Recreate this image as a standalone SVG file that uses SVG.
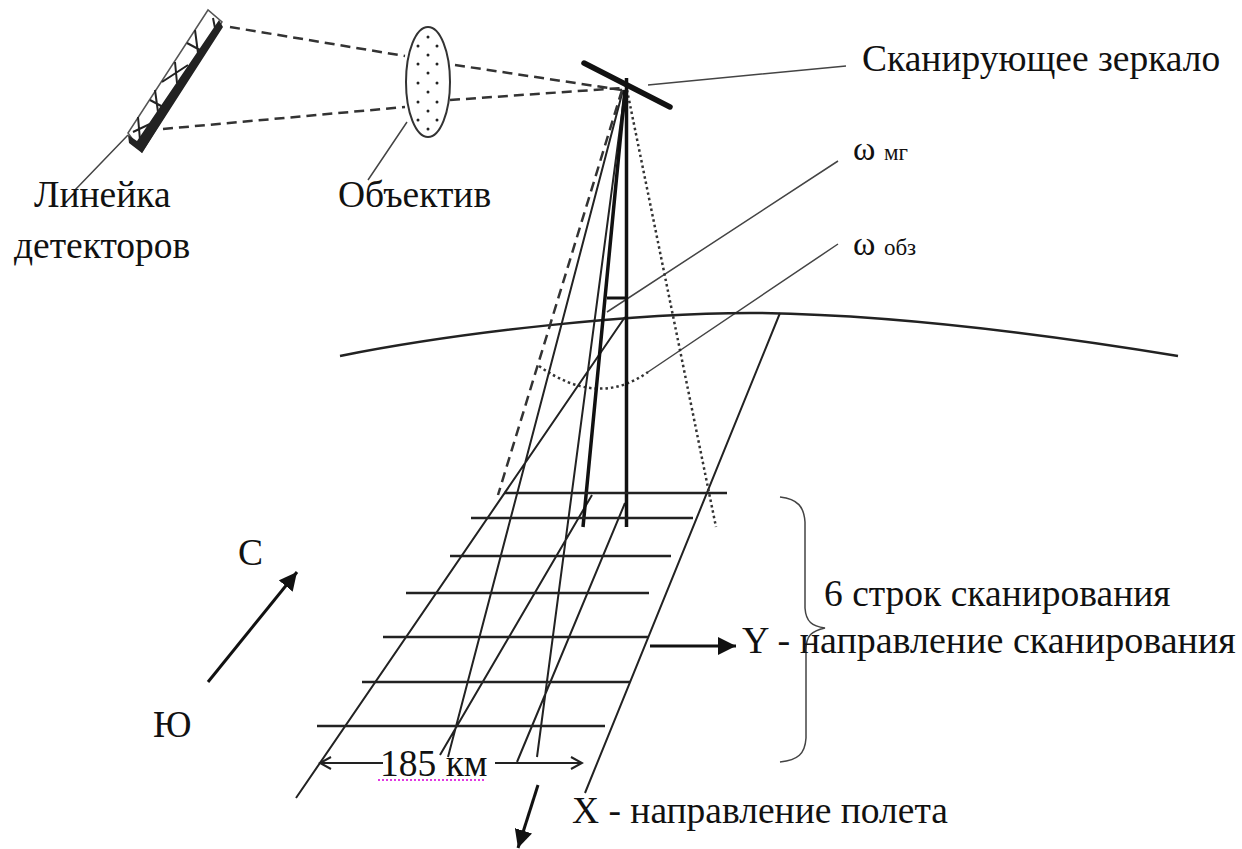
<svg xmlns="http://www.w3.org/2000/svg" width="1242" height="849" viewBox="0 0 1242 849">
<defs>
<style>
text{font-family:"Liberation Serif","Times New Roman",serif;font-size:37.500px;fill:#111}
.t{fill:none;stroke:#222;stroke-width:2}
.m{fill:none;stroke:#111;stroke-width:3}
.l{fill:none;stroke:#444;stroke-width:1.5}
.d{fill:none;stroke:#333;stroke-width:2.5;stroke-dasharray:10 6}
.o{fill:none;stroke:#333;stroke-width:2.5;stroke-dasharray:2.5 3}
.s{fill:none;stroke:#222;stroke-width:2.5}
.dot{fill:#222}
</style>
<marker id="solid" markerUnits="userSpaceOnUse" markerWidth="20" markerHeight="18" refX="18" refY="9" orient="auto"><path d="M0 0L18 9L0 18Z" fill="#111"/></marker>
<marker id="open" markerUnits="userSpaceOnUse" markerWidth="14" markerHeight="14" refX="12" refY="7" orient="auto"><path d="M1 1L12 7L1 13" fill="none" stroke="#222" stroke-width="2"/></marker>
</defs>
<rect width="1242" height="849" fill="#fff"/>
<g id="connectors">
<path class="d" d="M230 27L405 56M163 129L405 107M455 65L622 90M450 100L622 88"/>
<path class="l" d="M128 135L75 190M407 122L368 180M648 85L846 66M838 161L607 312M838 244L648 372"/>
<path class="o" d="M539 366Q598 408 648 372" stroke-width="2"/>
<path class="s" d="M340 356C460 332 640 312 760 313C900 315 1050 335 1178 356"/>
<path class="t" d="M296 798L625 317M585 793L780 313M440 755L592 495M448 757L623 90M517 762L625 503M537 757L625 90"/>
<path class="d" d="M622 90L498 495"/>
<path class="o" d="M627 90L716 527"/>
<path fill="none" stroke="#111" stroke-width="3.500" d="M626.500 78V527M625 90L583 527"/>
<path class="m" d="M607 298H627"/>
<path class="s" d="M504 493H727M471 518H693M450 556H671M406 593H649M383 637H648M362 682H630M317 726H605"/>
<path class="m" stroke-width="3.500" d="M208 682L297 572" marker-end="url(#solid)"/>
<path class="m" stroke-width="4" d="M650 646H736" marker-end="url(#solid)"/>
<path class="m" stroke-width="4" d="M538 785L518 848" marker-end="url(#solid)"/>
<path class="t" d="M383 763H320" marker-end="url(#open)"/>
<path class="t" d="M495 763H582" marker-end="url(#open)"/>
<path class="l" stroke-width="2" d="M780 497C798 499 804 507 805 522V608C806 622 812 626 825 628C812 631 806 635 806 650V738C805 754 798 760 780 762"/>
<path fill="none" stroke="#e23be2" stroke-width="2" stroke-dasharray="2 2" d="M378 780H486"/>
</g>
<g id="detector">
<path fill="none" stroke="#555" stroke-width="1.500" d="M208 10L128 133L142 152L222 22Z"/>
<path fill="none" stroke="#222" stroke-width="2" d="M213 18L215 28M195 30L198 53M187 43L200 50M175 62L177 83M162 82L188 65M155 90L158 112M150 100L163 107M138 117L140 140M133 132L152 123"/>
<path fill="#222" d="M219 20L223 27L142 153L129 143L128 135L137 141Z"/>
</g>
<g id="lens">
<ellipse cx="428" cy="82" rx="22" ry="55" fill="#fff" stroke="#333" stroke-width="2"/>
<g class="dot">
<circle cx="428" cy="37" r="1.500"/><circle cx="418" cy="46" r="1.500"/><circle cx="437" cy="46" r="1.500"/><circle cx="428" cy="55" r="1.500"/><circle cx="418" cy="64" r="1.500"/><circle cx="437" cy="64" r="1.500"/><circle cx="428" cy="73" r="1.500"/><circle cx="418" cy="83" r="1.500"/><circle cx="437" cy="83" r="1.500"/><circle cx="428" cy="92" r="1.500"/><circle cx="418" cy="102" r="1.500"/><circle cx="437" cy="102" r="1.500"/><circle cx="428" cy="111" r="1.500"/><circle cx="418" cy="120" r="1.500"/><circle cx="437" cy="120" r="1.500"/><circle cx="428" cy="129" r="1.500"/>
</g>
</g>
<g id="mirror"><path stroke="#111" stroke-width="5.500" stroke-linecap="round" d="M584 63L670 107"/></g>
<g id="labels">
<text x="862" y="71">Сканирующее зеркало</text>
<text x="34" y="207">Линейка</text>
<text x="14" y="258">детекторов</text>
<text x="338" y="207">Объектив</text>
<text x="853" y="160" style="font-size:34px">ω <tspan style="font-size:23px">мг</tspan></text>
<text x="853" y="255" style="font-size:34px">ω <tspan style="font-size:23px">обз</tspan></text>
<text x="824" y="606">6 строк сканирования</text>
<text x="742" y="653" style="font-size:38px">Y - направление сканирования</text>
<text x="572" y="823">X - направление полета</text>
<text x="238" y="565">С</text>
<text x="153" y="737">Ю</text>
<text x="380" y="776">185 км</text>
</g>
</svg>
